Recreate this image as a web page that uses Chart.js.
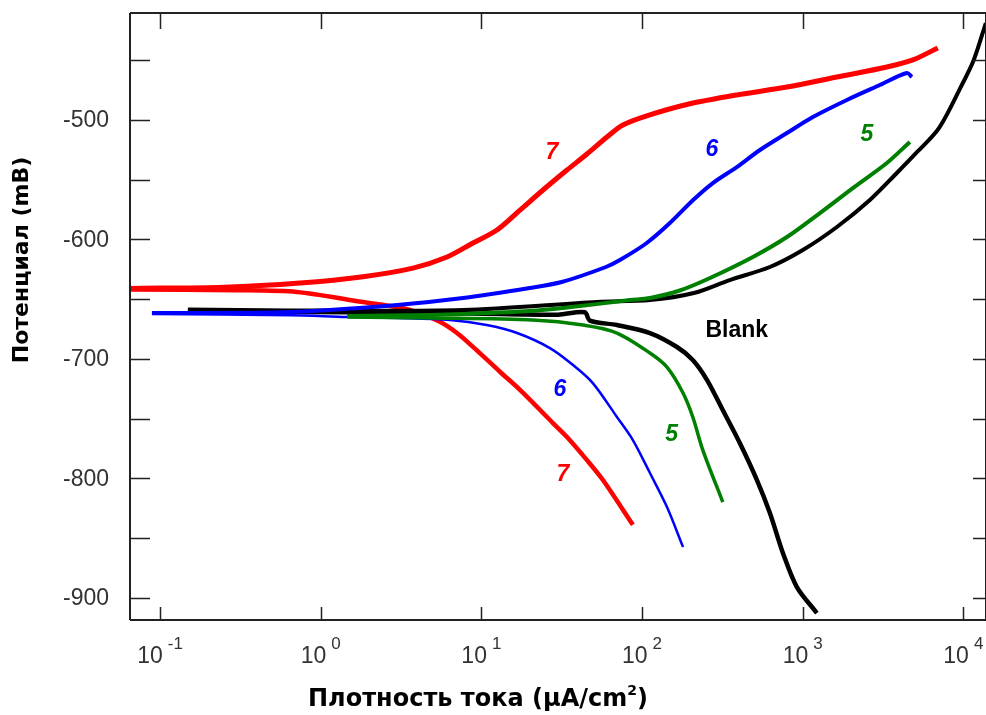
<!DOCTYPE html>
<html>
<head>
<meta charset="utf-8">
<script src="https://cdn.jsdelivr.net/npm/chart.js@4.4.1/dist/chart.umd.min.js"></script>
<style>
  html, body { margin: 0; padding: 0; background: #fff; }
  #wrap { width: 986px; height: 715px; }
</style>
</head>
<body>
<div id="wrap"><canvas id="tafel" width="986" height="715"></canvas></div>
<script>
// current density (uA/cm2) and potential (mV)
var red7AnodicX = [0.065, 0.25, 0.743, 1.83, 3.75, 6.11, 8.87, 12.5, 17.4, 24.2, 34.1, 45.4, 60.5, 76, 107, 190, 389, 798, 1633, 3342, 4853, 6934];
var red7AnodicY = [-641, -640, -636.5, -631.2, -624, -614.7, -603, -592.1, -575.4, -558.6, -541.9, -528.5, -514.2, -504.2, -496.5, -487, -479, -472.4, -464, -455.6, -449.7, -439.7];
var red7CathodicX = [0.065, 0.3, 0.71, 1.83, 2.99, 3.97, 5.52, 7.05, 8.87, 13.1, 17.4, 27.9, 34.1, 45.4, 57.1, 87.7];
var red7CathodicY = [-642, -642.5, -644, -652.4, -656.6, -660.8, -669, -678.4, -690, -711, -726, -753.8, -765.5, -784.8, -801.5, -839];

var blue6AnodicX = [0.089, 0.645, 2.99, 7.69, 20.0, 31.6, 59.6, 72.8, 107, 149, 208, 276, 389, 542, 798, 1157, 1884, 3020, 4446, 4786];
var blue6AnodicY = [-661.6, -660.8, -654.9, -649.1, -640.7, -635.7, -623.1, -617.3, -603, -586.3, -567, -552.8, -539.4, -525.1, -510.9, -497.5, -483.2, -470.7, -460.6, -464];
var blue6CathodicX = [0.089, 0.65, 1.46, 2.99, 6.38, 10.8, 16.7, 26.7, 37.2, 49.4, 69.8, 87.7, 112, 143, 180];
var blue6CathodicY = [-662.5, -663.5, -665, -665.8, -667.5, -671.7, -678.4, -691, -705.2, -720.3, -748.7, -768, -795.6, -824.1, -857.6];

var green5AnodicX = [1.46, 4.79, 7.69, 20.0, 32.2, 84, 112, 170, 265, 490, 798, 1280, 2052, 3342, 4645];
var green5AnodicY = [-664.2, -663.3, -662.5, -660, -657.5, -650.8, -649.1, -643, -632.3, -614.7, -598, -577.9, -557, -536, -518.4];
var green5CathodicX = [1.46, 5.0, 20.9, 42.9, 69.8, 112, 143, 180, 207, 239, 318];
var green5CathodicY = [-665, -665.8, -667.5, -671.7, -678.4, -695.1, -706.9, -728.6, -748.7, -776.4, -819.9];

var blankAnodicX = [0.149, 0.645, 7.69, 52.4, 112, 210, 352, 625, 1002, 1633, 2620, 3855, 5140, 7031, 9638, 11610, 13800];
var blankAnodicY = [-658.7, -659.5, -659.1, -652.4, -650.8, -644.9, -634, -623.1, -608.9, -589.6, -567, -544.4, -527, -507, -472.4, -449.7, -418.8];
var blankCathodicX = [0.149, 1.5, 8.5, 30, 44, 47.4, 69.8, 112, 165, 207, 254, 318, 406, 519, 625, 753, 920, 1225];
var blankCathodicY = [-660, -661, -662, -663, -661, -668, -671.7, -678.4, -690.1, -701, -717.8, -742.9, -770.5, -801.5, -829.1, -862.6, -891.1, -912.9];

// axis ticks
var xDecades = [0.1, 1, 10, 100, 1000, 10000];
var xExponents = ['-1', '0', '1', '2', '3', '4'];
var yMajorTicks = [-900, -800, -700, -600, -500];
var yMinorTicks = [-850, -750, -650, -550, -450];

// curve labels: text and data position
var labelTexts = ['7', '6', '5', 'Blank', '6', '7', '5'];
var labelX = [27.5, 272, 2512, 389, 30.8, 32.2, 153];
var labelY = [-527.6, -525.1, -512.6, -676.7, -726.1, -797.3, -763.8];
var labelColors = ['#ff0000', '#0000ff', '#008000', '#000000', '#0000ff', '#ff0000', '#008000'];

function pts(xs, ys) {
  var out = [];
  for (var i = 0; i < xs.length; i++) out.push({ x: xs[i], y: ys[i] });
  return out;
}

function curve(xs, ys, color, width, order) {
  return {
    data: pts(xs, ys),
    borderColor: color,
    borderWidth: width,
    showLine: true,
    pointRadius: 0,
    tension: 0.3,
    order: order
  };
}

var axisFont = '23px "Liberation Sans", Arial, sans-serif';
var supFont = '17px "Liberation Sans", Arial, sans-serif';
var xTitleFont = 'bold 24px "DejaVu Sans", sans-serif';
var yTitleFont = 'bold 22px "DejaVu Sans", sans-serif';
var titleSupFont = 'bold 14px "DejaVu Sans", sans-serif';

var framePlugin = {
  id: 'frame',
  afterDraw: function(chart) {
    var c = chart.ctx, a = chart.chartArea;
    var xs = chart.scales.x, ys = chart.scales.y;
    c.save();
    c.strokeStyle = '#222';
    c.lineWidth = 2;
    c.beginPath();
    c.moveTo(a.left, a.top); c.lineTo(a.left, a.bottom);
    c.moveTo(a.left, a.bottom); c.lineTo(a.right, a.bottom);
    c.moveTo(a.left, a.top); c.lineTo(a.right, a.top);
    c.moveTo(a.right, a.top); c.lineTo(a.right, a.bottom);
    c.stroke();

    // y ticks, inward, both sides
    var yAll = yMajorTicks.concat(yMinorTicks);
    c.lineWidth = 1.5;
    c.beginPath();
    yAll.forEach(function(v) {
      var py = Math.round(ys.getPixelForValue(v)) + 0.5;
      c.moveTo(a.left, py); c.lineTo(a.left + 20, py);
      c.moveTo(a.right, py); c.lineTo(a.right - 13, py);
    });
    // x ticks at decades
    xDecades.forEach(function(v) {
      var px = Math.round(xs.getPixelForValue(v)) + 0.5;
      c.moveTo(px, a.bottom); c.lineTo(px, a.bottom - 13);
      c.moveTo(px, a.top); c.lineTo(px, a.top + 16);
    });
    c.stroke();

    // y tick labels
    c.fillStyle = '#333';
    c.font = axisFont;
    c.textAlign = 'right';
    c.textBaseline = 'middle';
    yMajorTicks.forEach(function(v) {
      c.fillText(String(v), a.left - 21, ys.getPixelForValue(v) + 1);
    });

    // x tick labels 10^n
    c.textAlign = 'left';
    c.textBaseline = 'alphabetic';
    xDecades.forEach(function(v, i) {
      c.font = axisFont;
      var w1 = c.measureText('10').width;
      c.font = supFont;
      var w2 = c.measureText(xExponents[i]).width;
      var gap = 5;
      var total = w1 + gap + w2;
      var px = xs.getPixelForValue(v) - total / 2;
      c.font = axisFont;
      c.fillText('10', px, 663);
      c.font = supFont;
      c.fillText(xExponents[i], px + w1 + gap, 649);
    });

    // axis titles
    c.fillStyle = '#000';
    var t1 = 'Плотность тока (µA/cm', t2 = '2', t3 = ')';
    c.font = xTitleFont;
    var wa = c.measureText(t1).width, wc = c.measureText(t3).width;
    c.font = titleSupFont;
    var wb = c.measureText(t2).width;
    var sx = 478 - (wa + wb + wc) / 2;
    c.font = xTitleFont;
    c.fillText(t1, sx, 706);
    c.font = titleSupFont;
    c.fillText(t2, sx + wa, 695);
    c.font = xTitleFont;
    c.fillText(t3, sx + wa + wb, 706);

    c.save();
    c.translate(28, 260);
    c.rotate(-Math.PI / 2);
    c.textAlign = 'center';
    c.font = yTitleFont;
    c.fillText('Потенциал (mB)', 0, 0);
    c.restore();

    // curve labels
    c.textAlign = 'center';
    c.textBaseline = 'middle';
    labelTexts.forEach(function(t, i) {
      c.fillStyle = labelColors[i];
      c.font = t === 'Blank' ? 'bold 23px "Liberation Sans", Arial, sans-serif'
                             : 'italic bold 23px "Liberation Sans", Arial, sans-serif';
      c.fillText(t, xs.getPixelForValue(labelX[i]), ys.getPixelForValue(labelY[i]));
    });
    c.restore();
  }
};

new Chart(document.getElementById('tafel'), {
  type: 'scatter',
  data: {
    datasets: [
      curve(red7AnodicX, red7AnodicY, '#ff0000', 5, 3),
      curve(red7CathodicX, red7CathodicY, '#ff0000', 4.5, 3),
      curve(blankAnodicX, blankAnodicY, '#000000', 4, 2),
      curve(blankCathodicX, blankCathodicY, '#000000', 4.5, 2),
      curve(blue6AnodicX, blue6AnodicY, '#0000ff', 4, 1),
      curve(blue6CathodicX, blue6CathodicY, '#0000ff', 2.5, 1),
      curve(green5AnodicX, green5AnodicY, '#008000', 4, 0),
      curve(green5CathodicX, green5CathodicY, '#008000', 3.5, 0)
    ]
  },
  options: {
    responsive: false,
    animation: false,
    events: [],
    layout: { padding: { left: 130, top: 13, right: 0, bottom: 95 } },
    plugins: { legend: { display: false }, tooltip: { enabled: false } },
    scales: {
      x: { type: 'logarithmic', display: false, min: 0.065, max: 13836 },
      y: { type: 'linear', display: false, min: -918.7, max: -410.4 }
    }
  },
  plugins: [framePlugin]
});
</script>
</body>
</html>
